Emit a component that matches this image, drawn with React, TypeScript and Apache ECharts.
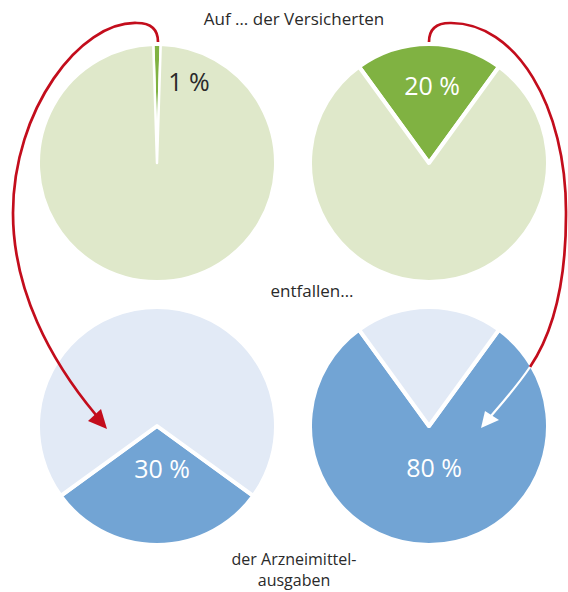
import React, { useEffect, useRef } from "react";
import * as echarts from "echarts";

// Anteil der Versicherten (%), Anteil an den Arzneimittelausgaben (%)
const insuredShares = [1, 20];
const spendingShares = [30, 80];
const headerTop = "Auf … der Versicherten";
const headerMiddle = "entfallen…";
const headerBottom = "der Arzneimittel-\nausgaben";

const GREEN = "#80b242";
const GREEN_LIGHT = "#dfe8ca";
const BLUE = "#72a4d4";
const BLUE_LIGHT = "#e2eaf6";
const RED = "#c30d1c";
const TEXT = "#2a2a2a";
const FONT = "'Open Sans', 'Noto Sans', sans-serif";

function makePie(
  center: [number, number],
  value: number,
  centerAngle: number,
  dark: string,
  light: string,
  labelColor: string,
  labelXY: [number, number],
  sep: string,
  border: number
) {
  return {
    type: "pie",
    center,
    radius: 117 + border / 2,
    startAngle: centerAngle + value * 1.8,
    clockwise: true,
    silent: true,
    avoidLabelOverlap: false,
    labelLine: { show: false },
    label: { show: false },
    itemStyle: { borderColor: "#ffffff", borderWidth: border },
    labelLayout: { x: labelXY[0], y: labelXY[1], align: "center", verticalAlign: "middle" },
    data: [
      {
        value,
        name: "a",
        itemStyle: { color: dark },
        label: {
          show: true,
          position: "inside",
          formatter: `${value}${sep}%`,
          color: labelColor,
          fontSize: 25,
          fontFamily: FONT,
          fontWeight: 400,
        },
      },
      { value: 100 - value, name: "b", itemStyle: { color: light }, label: { show: false } },
    ],
  };
}

function bez(p: number[], stroke: string, w: number) {
  return {
    type: "bezierCurve",
    z: 10,
    silent: true,
    shape: {
      x1: p[0], y1: p[1], cpx1: p[2], cpy1: p[3], cpx2: p[4], cpy2: p[5], x2: p[6], y2: p[7],
    },
    style: { stroke, lineWidth: w, fill: null },
  };
}

export default function App() {
  const ref = useRef<HTMLDivElement>(null);
  useEffect(() => {
    if (!ref.current) return;
    const chart = echarts.init(ref.current, null, { renderer: "svg" });
    const option = {
      animation: false,
      backgroundColor: "#ffffff",
      series: [
        makePie([157, 163], insuredShares[0], 90, GREEN, GREEN_LIGHT, TEXT, [189, 81], " ", 2.5),
        makePie([429, 163], insuredShares[1], 90, GREEN, GREEN_LIGHT, "#ffffff", [432, 85], " ", 4),
        makePie([157, 426], spendingShares[0], 270, BLUE, BLUE_LIGHT, "#ffffff", [162, 468], " ", 4),
        makePie([429, 426], spendingShares[1], 270, BLUE, BLUE_LIGHT, "#ffffff", [434, 467], " ", 4),
      ],
      graphic: [
        {
          type: "text", z: 10, x: 294, y: 18,
          style: { text: headerTop, fill: TEXT, fontSize: 17, fontFamily: FONT, align: "center", verticalAlign: "middle" },
        },
        {
          type: "text", z: 10, x: 312, y: 290,
          style: { text: headerMiddle, fill: TEXT, fontSize: 17, fontFamily: FONT, align: "center", verticalAlign: "middle" },
        },
        {
          type: "text", z: 10, x: 294, y: 569,
          style: { text: headerBottom, fill: TEXT, fontSize: 16, lineHeight: 21, fontFamily: FONT, align: "center", verticalAlign: "middle" },
        },
        // left arrow
        bez([158, 42, 158, 28, 150, 23, 137, 23], RED, 2.7),
        bez([137, 23, 80, 21, 13, 110, 13, 213], RED, 2.7),
        bez([13, 213, 13, 290, 50, 360, 96, 415], RED, 2.7),
        {
          type: "polygon", z: 11, silent: true,
          shape: { points: [[107, 429], [88, 421], [101, 409]] },
          style: { fill: RED },
        },
        // right arrow
        bez([429, 42, 429, 28, 438, 23, 450, 23], RED, 2.7),
        bez([450, 23, 515, 22, 567, 105, 566, 215], RED, 2.7),
        bez([566, 215, 566, 280, 555, 330, 530, 367], RED, 2.7),
        bez([530, 367, 518, 385, 503, 402, 491, 416], "#ffffff", 2.2),
        {
          type: "polygon", z: 11, silent: true,
          shape: { points: [[481, 428], [485, 411], [499, 420]] },
          style: { fill: "#ffffff" },
        },
      ],
    };
    chart.setOption(option as any);
    return () => chart.dispose();
  }, []);
  return (
    <div
      ref={ref}
      style={{ position: "absolute", left: 0, top: 0, width: 568, height: 592 }}
    />
  );
}
